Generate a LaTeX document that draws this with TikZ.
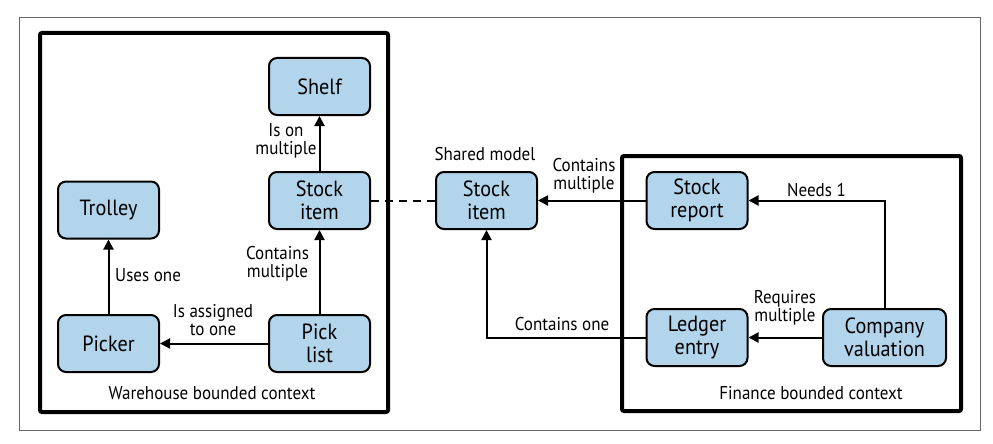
\documentclass[tikz,border=0pt]{standalone}
\usepackage{fontspec}
\setmainfont{PT Sans}[FakeStretch=0.92]
\usetikzlibrary{arrows.meta}
\definecolor{boxblue}{HTML}{B3D5EC}
\definecolor{framegray}{HTML}{666666}
\begin{document}
\begin{tikzpicture}[x=1pt,y=-1pt,
  ent/.style={draw=black, line width=2pt, fill=boxblue, rounded corners=8pt,
    minimum width=101pt, minimum height=57pt, align=center, inner sep=0pt,
    font=\fontsize{22}{22.5}\selectfont},
  rel/.style={line width=2pt, -{Triangle[length=10pt,width=10pt]}},
  lbl/.style={inner sep=0pt, align=center, font=\fontsize{18.5}{18.5}\selectfont},
  ctx/.style={line width=4pt, rounded corners=2pt}
]
\useasboundingbox (0,0) rectangle (993,444);
\draw[framegray, line width=1pt] (19,18) rectangle (980,430);
\draw[ctx] (40,33) rectangle (388,412);
\draw[ctx] (622,156) rectangle (961,411);

\node[ent] (shelf) at (319.5,86.5) {Shelf};
\node[ent] (sitem) at (319.5,200.5) {Stock\\item};
\node[ent] (trolley) at (108.5,210) {Trolley};
\node[ent] (picker) at (108.5,343.5) {Picker};
\node[ent] (picklist) at (319.5,343.5) {Pick\\list};
\node[ent] (shared) at (486.5,200.5) {Stock\\item};
\node[ent] (report) at (697,200.5) {Stock\\report};
\node[ent] (ledger) at (697,337.5) {Ledger\\entry};
\node[ent, minimum width=123pt] (valuation) at (884.5,337.5) {Company\\valuation};

\draw[rel] (sitem) -- (shelf);
\draw[rel] (picker) -- (trolley);
\draw[rel] (picklist) -- (sitem);
\draw[rel] (picklist) -- (picker);
\draw[line width=2pt, dash pattern=on 8pt off 6pt] (sitem) -- (shared);
\draw[rel] (report) -- (shared);
\draw[rel] (valuation.north) |- (report.east);
\draw[rel] (valuation) -- (ledger);
\draw[rel] (ledger.west) -| (shared.south);

\node[lbl] (l1) at (286,141) {Is on\\multiple};
\node[lbl, anchor=west] (l2) at (115,275) {Uses one};
\node[lbl] (l3) at (277.5,264) {Contains\\multiple};
\node[lbl] (l4) at (213,320) {Is assigned\\to one};
\node[lbl] (l5) at (485,154) {Shared model};
\node[lbl] (l6) at (584,176) {Contains\\multiple};
\node[lbl] (l7) at (816.5,190) {Needs 1};
\node[lbl] (l8) at (785,308) {Requires\\multiple};
\node[lbl] (l9) at (562,324) {Contains one};
\node[lbl] (l10) at (212,393) {Warehouse bounded context};
\node[lbl] (l11) at (811,393) {Finance bounded context};
\end{tikzpicture}
\end{document}
